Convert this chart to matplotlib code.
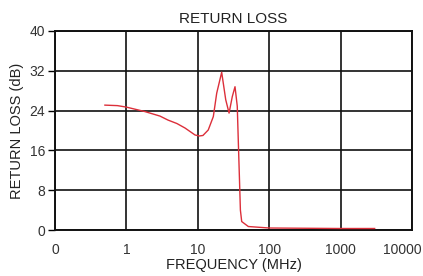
import numpy as np
import matplotlib
matplotlib.use('Agg')
import matplotlib.pyplot as plt
import matplotlib.transforms as mtransforms

plt.rcParams['font.family'] = ['Liberation Sans', 'DejaVu Sans']

# Return loss curve (frequency in MHz, loss in dB)
freq = [0.5, 0.75, 1.0, 1.82, 2.95, 3.82, 5.1, 6.62, 9.14, 10.5, 11.8, 14.0, 16.5,
        18.4, 21.6, 24.6, 27.4, 30.4, 33.2, 35.7, 36.9, 38.0, 39.5, 41.2, 51,
        100, 1000, 3000]
loss = [25.1, 25.0, 24.7, 23.8, 22.9, 22.1, 21.4, 20.5, 19.1, 18.9, 19.0, 20.1, 22.8,
        27.5, 31.7, 26.2, 23.5, 26.8, 28.8, 24.9, 18.0, 12.0, 4.0, 1.7, 0.7,
        0.4, 0.3, 0.3]

xticks = [0.1, 1, 10, 100, 1000, 10000]
xlabels = ['0', '1', '10', '100', '1000', '10000']
yticks = [0, 8, 16, 24, 32, 40]

fig = plt.figure(figsize=(4.23, 2.76), dpi=100)
ax = fig.add_axes([55/423, 46/276, 357/423, 199/276])

ax.plot(freq, loss, color='#dc2f3a', lw=1.0, zorder=3)

ax.set_xscale('log')
ax.set_xlim(0.1, 10000)
ax.set_ylim(0, 40)
ax.set_xticks(xticks)
ax.set_xticklabels(xlabels)
ax.set_yticks(yticks)
ax.minorticks_off()
ax.grid(True, color='#111111', lw=1.2)
for s in ax.spines.values():
    s.set_linewidth(1.4)
    s.set_color('#111111')
ax.tick_params(axis='x', length=0, pad=9, labelsize=10, labelcolor='#333333')
ax.tick_params(axis='y', length=5, width=1.0, pad=2, labelsize=10, labelcolor='#333333')

# last label sits at the right edge; nudge it so it stays inside the figure
last = ax.get_xticklabels()[-1]
last.set_horizontalalignment('right')
last.set_transform(last.get_transform() +
                   mtransforms.ScaledTranslation(10/100, 0, fig.dpi_scale_trans))

ax.set_title('RETURN LOSS', fontsize=11, color='#222222', pad=5.5)
ax.set_xlabel('FREQUENCY (MHz)', fontsize=10.5, color='#222222', labelpad=1)
ax.set_ylabel('RETURN LOSS (dB)', fontsize=10.5, color='#222222', labelpad=4)

fig.savefig('out.png', dpi=100)
